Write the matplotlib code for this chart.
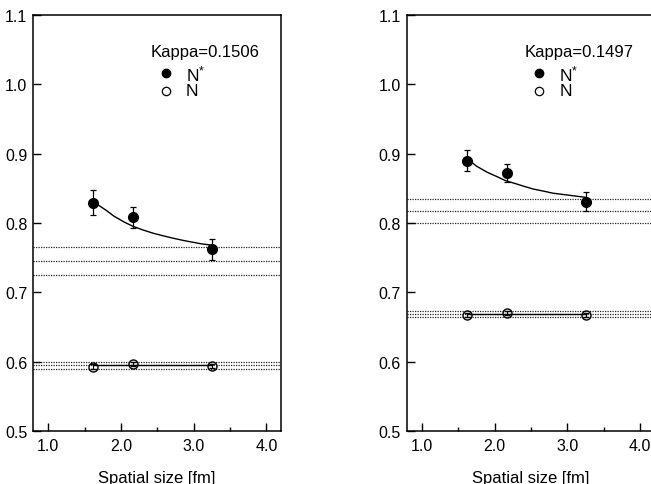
import matplotlib
matplotlib.use("Agg")
import matplotlib.pyplot as plt

plt.rcParams['font.family'] = ['Liberation Sans', 'DejaVu Sans']
plt.rcParams['mathtext.fontset'] = 'custom'
plt.rcParams['mathtext.rm'] = 'Liberation Sans'
plt.rcParams['mathtext.it'] = 'Liberation Sans'

# spatial sizes (fm)
sizes = [1.62, 2.17, 3.25]

# left panel, kappa = 0.1506
kappa_l = "Kappa=0.1506"
nstar_l = [0.829, 0.808, 0.762]
nstar_err_l = [0.018, 0.015, 0.015]
n_l = [0.593, 0.597, 0.594]
n_err_l = [0.003, 0.003, 0.003]
nstar_fit_x_l = [1.62, 1.70, 1.80, 1.90, 2.05, 2.17, 2.30, 2.45, 2.60, 2.72, 2.85, 3.00, 3.10, 3.25]
nstar_fit_y_l = [0.832, 0.825, 0.818, 0.810, 0.801, 0.795, 0.790, 0.785, 0.781, 0.778, 0.775, 0.772, 0.770, 0.768]
n_fit_l = 0.595
nstar_band_l = [0.766, 0.745, 0.725]
n_band_l = [0.600, 0.595, 0.590]

# right panel, kappa = 0.1497
kappa_r = "Kappa=0.1497"
nstar_r = [0.890, 0.872, 0.831]
nstar_err_r = [0.015, 0.013, 0.013]
n_r = [0.667, 0.670, 0.667]
n_err_r = [0.003, 0.003, 0.003]
nstar_fit_x_r = [1.62, 1.75, 1.90, 2.05, 2.15, 2.28, 2.40, 2.53, 2.67, 2.80, 2.95, 3.10, 3.25]
nstar_fit_y_r = [0.893, 0.882, 0.873, 0.866, 0.861, 0.857, 0.853, 0.849, 0.846, 0.843, 0.841, 0.839, 0.837]
n_fit_r = 0.669
nstar_band_r = [0.835, 0.818, 0.800]
n_band_r = [0.673, 0.669, 0.665]

xticks = [1.0, 2.0, 3.0, 4.0]
yticks = [0.5, 0.6, 0.7, 0.8, 0.9, 1.0, 1.1]

fig = plt.figure(figsize=(6.51, 4.85), dpi=100)
ax1 = fig.add_axes([0.0507, 0.1093, 0.381, 0.8577])
ax2 = fig.add_axes([0.6247, 0.1093, 0.381, 0.8577])


def panel(ax, kappa, ns, ns_err, n, n_err, fx, fy, nfit, band_s, band_n):
    for yb in band_s + band_n:
        ax.axhline(yb, color='#222222', lw=0.9, ls=(0, (1, 1)), zorder=1)
    ax.plot(fx, fy, color='black', lw=1.0, zorder=2)
    ax.plot([sizes[0], sizes[-1]], [nfit, nfit], color='black', lw=1.0, zorder=2)
    ax.errorbar(sizes, ns, yerr=ns_err, fmt='o', color='black', ms=7,
                capsize=2.5, elinewidth=0.9, capthick=0.9, zorder=3)
    ax.errorbar(sizes, n, yerr=n_err, fmt='o', mfc='none', mec='black', color='black',
                ms=6.5, mew=1.0, capsize=2, elinewidth=0.8, capthick=0.8, zorder=3)
    ax.set_xlim(0.79, 4.2)
    ax.set_ylim(0.5, 1.1)
    ax.set_xticks(xticks)
    ax.set_xticklabels(['%.1f' % v for v in xticks])
    ax.set_xticks([1.5, 2.5, 3.5], minor=True)
    ax.set_yticks(yticks)
    ax.set_yticklabels(['%.1f' % v for v in yticks])
    ax.tick_params(axis='both', which='major', direction='in', length=6, width=1,
                   labelsize=11.5, pad=5)
    ax.tick_params(axis='x', which='minor', direction='in', length=3, width=1)
    ax.tick_params(axis='y', which='major', pad=4)
    for s in ax.spines.values():
        s.set_linewidth(1.1)
    ax.set_xlabel('Spatial size [fm]', fontsize=12, labelpad=12)
    ax.text(2.41, 1.048, kappa, fontsize=12, va='center', ha='left')
    ax.plot([2.615], [1.0163], 'o', color='black', ms=6)
    ax.plot([2.615], [0.9908], 'o', mfc='none', mec='black', mew=0.9, ms=6)
    ax.text(2.89, 1.0163, 'N$^{*}$', fontsize=12.5, va='center', ha='left')
    ax.text(2.89, 0.9908, 'N', fontsize=12.5, va='center', ha='left')


panel(ax1, kappa_l, nstar_l, nstar_err_l, n_l, n_err_l,
      nstar_fit_x_l, nstar_fit_y_l, n_fit_l, nstar_band_l, n_band_l)
panel(ax2, kappa_r, nstar_r, nstar_err_r, n_r, n_err_r,
      nstar_fit_x_r, nstar_fit_y_r, n_fit_r, nstar_band_r, n_band_r)

fig.savefig('out.png', dpi=100)
